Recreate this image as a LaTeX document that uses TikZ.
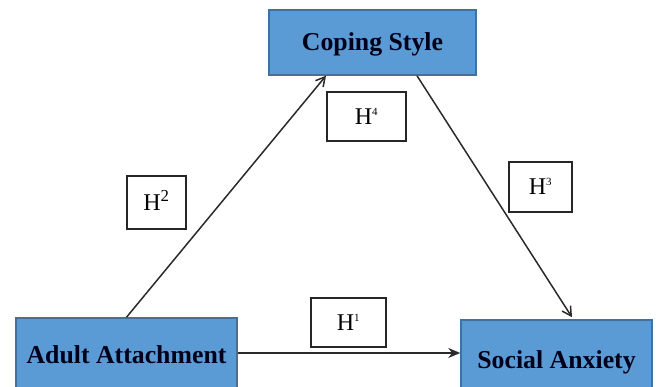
\documentclass[tikz,border=0pt]{standalone}
\usepackage{fontspec}
\setmainfont{Liberation Serif}
\usetikzlibrary{arrows.meta}
\definecolor{boxfill}{HTML}{5B9BD5}
\definecolor{boxline}{HTML}{41719C}
\definecolor{lineclr}{HTML}{2A2A2A}
\begin{document}
\begin{tikzpicture}[x=1pt,y=1pt,
  varbox/.style={draw=boxline,line width=1.5pt,fill=boxfill,inner sep=0pt,
    font=\fontsize{25.8}{30}\selectfont\bfseries,text=black!90!blue,
    text height=17pt,text depth=0pt},
  hbox/.style={draw=black!85,line width=1.3pt,fill=white,inner sep=0pt,
    font=\fontsize{24}{28}\selectfont,text height=16pt,text depth=0pt},
  arr/.style={draw=lineclr,line width=1.5pt},
]
\useasboundingbox (0,0) rectangle (656,387);
\clip (0,0) rectangle (656,387);
\node[varbox,minimum width=207pt,minimum height=65pt] (cope) at (372.5,344.5) {Coping Style};
\node[varbox,minimum width=221pt,minimum height=74pt] (adult) at (126.5,32) {Adult Attachment};
\node[varbox,minimum width=191pt,minimum height=81pt] (social) at (556.5,26.5) {Social Anxiety};
\node[hbox,minimum width=59pt,minimum height=53pt] (h2) at (156.5,184.5) {H\textsuperscript{2}};
\node[hbox,minimum width=79pt,minimum height=49pt] (h4) at (366.5,270.5) {H\textsuperscript{\fontsize{11}{12}\selectfont 4}};
\node[hbox,minimum width=63pt,minimum height=50pt] (h3) at (540.5,200) {H\textsuperscript{\fontsize{11}{12}\selectfont 3}};
\node[hbox,minimum width=75pt,minimum height=49pt] (h1) at (348.5,64.5) {H\textsuperscript{\fontsize{11}{12}\selectfont 1}};
\draw[arr,-{Stealth[length=12pt,width=10pt]},line width=2pt] ([yshift=2pt]adult.east) -- ([yshift=2pt]adult.east -| social.west);
\draw[arr,-{Straight Barb[length=9pt,width=10pt]}] (adult.north) -- ([xshift=-46.5pt]cope.south);
\draw[arr,-{Straight Barb[length=9pt,width=10pt]}] ([xshift=44.5pt]cope.south) -- ([xshift=15.5pt,yshift=2pt]social.north);
\end{tikzpicture}
\end{document}
